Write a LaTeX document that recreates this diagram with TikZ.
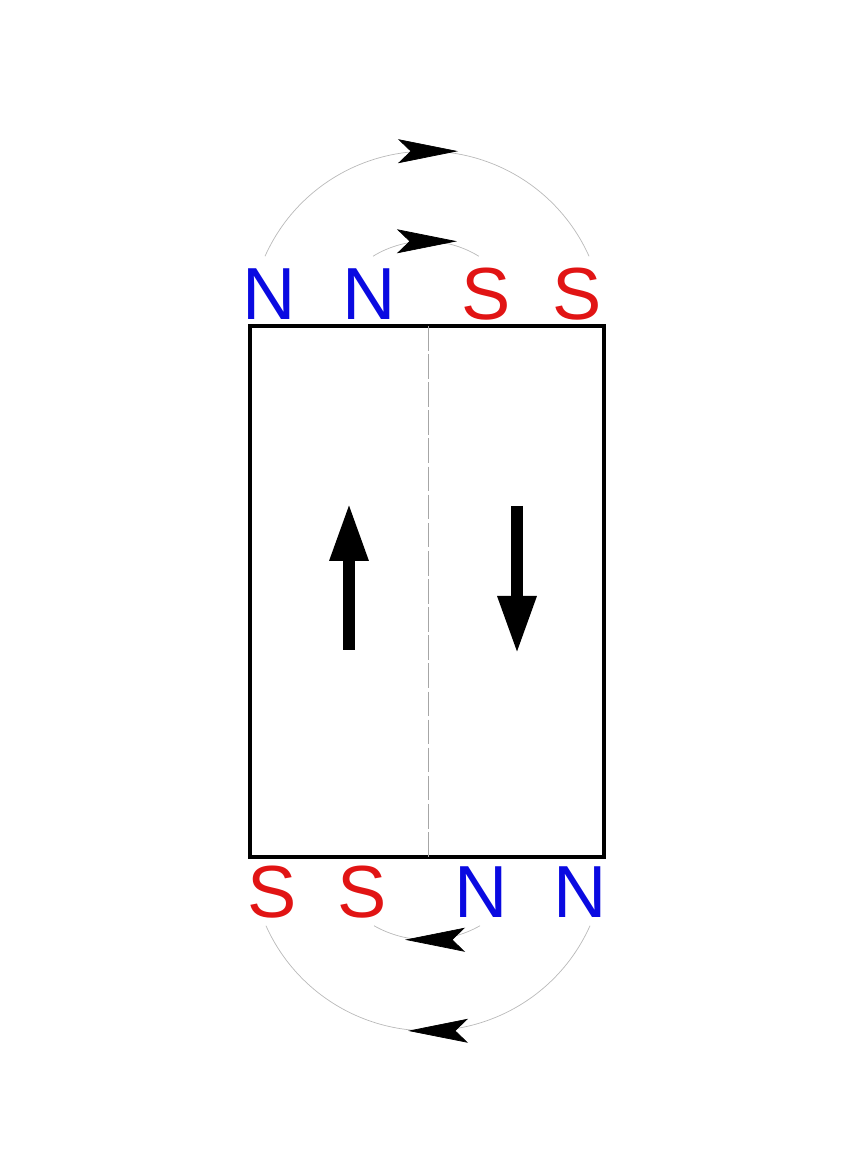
\documentclass[tikz,border=0pt]{standalone}
\usepackage{fontspec}
\setsansfont{Liberation Sans}
\usepackage{xcolor}
\usetikzlibrary{arrows.meta,decorations.markings,positioning}

\definecolor{poleN}{RGB}{10,10,225}
\definecolor{poleS}{RGB}{225,20,20}

\begin{document}
\begin{tikzpicture}[
  pole/.style={inner sep=0pt, font=\sffamily\fontsize{42}{42}\selectfont},
  npole/.style={pole, text=poleN},
  spole/.style={pole, text=poleS},
  field/.style={draw=gray!55, line width=0.4pt, postaction=decorate,
                decoration={markings, mark=at position 0.5 with
                  {\pgftransformxshift{#1}%
                   \arrow{Stealth[black, length=1.2cm, width=0.48cm, inset=0.25cm]}}}},
  magnet/.style={line width=0.24cm,
                 -{Triangle[length=1.16cm, width=0.72cm]}}
]
\useasboundingbox (0,0) rectangle (16.92,23);
% the block and its two halves
\draw[line width=2pt] (5.0,5.86) rectangle (12.08,16.48);
\draw[gray!70, line width=0.5pt, dash pattern=on 14pt off 2pt]
  (8.56,16.48) -- (8.56,5.86);
% poles on top
\node[npole] (tn1) at (5.38,17.12) {N};
\node[npole] (tn2) at (7.38,17.12) {N};
\node[spole] (ts1) at (9.72,17.12) {S};
\node[spole] (ts2) at (11.54,17.12) {S};
% poles at the bottom
\node[spole] (bs1) at (5.45,5.16) {S};
\node[spole] (bs2) at (7.24,5.16) {S};
\node[npole] (bn1) at (9.62,5.16) {N};
\node[npole] (bn2) at (11.60,5.16) {N};
% field lines
\draw[field=0.62cm] ([shift={(-0.08,0.24)}]tn1.north)
  arc[start angle=155.9, end angle=24.1, radius=3.55cm];
\draw[field=0.62cm] ([shift={(0.08,0.24)}]tn2.north)
  arc[start angle=121.6, end angle=58.4, radius=2.02cm];
\draw[field=0.4cm] ([shift={(0.2,-0.16)}]bn2.south)
  arc[start angle=-24.1, end angle=-155.9, radius=3.55cm];
\draw[field=0.44cm] ([shift={(-0.02,-0.16)}]bn1.south)
  arc[start angle=-60.4, end angle=-119.6, radius=2.146cm];
% magnetisation of each half
\coordinate (upfoot) at (6.98,10.0);
\coordinate (uptip) at (6.98,12.94);
\coordinate (downtop) at (10.34,12.88);
\coordinate (downtip) at (10.34,9.92);
\draw[magnet] (upfoot) -- (uptip);
\draw[magnet] (downtop) -- (downtip);
\end{tikzpicture}
\end{document}
